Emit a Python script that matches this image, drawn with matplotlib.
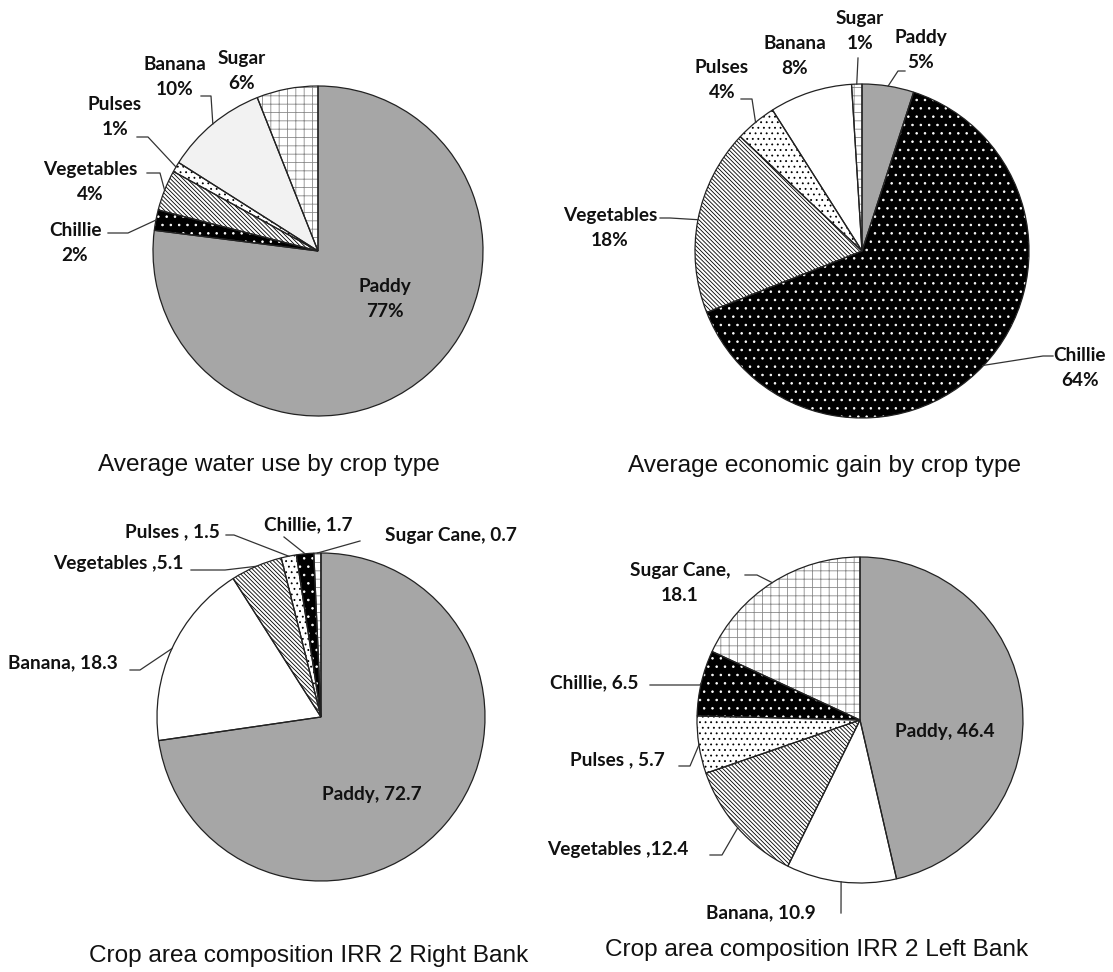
import numpy as np
import matplotlib.pyplot as plt
from matplotlib.patches import Wedge

W, H = 1113, 972

# data, clockwise from 12 o'clock
water_crops = ['Paddy', 'Chillie', 'Vegetables', 'Pulses', 'Banana', 'Sugar']
water_pct = [77, 2, 4, 1, 10, 6]

gain_crops = ['Paddy', 'Chillie', 'Vegetables', 'Pulses', 'Banana', 'Sugar']
gain_pct = [5, 64, 18, 4, 8, 1]

right_crops = ['Paddy', 'Banana', 'Vegetables', 'Pulses', 'Chillie', 'Sugar Cane']
right_area = [72.7, 18.3, 5.1, 1.5, 1.7, 0.7]

left_crops = ['Paddy', 'Banana', 'Vegetables', 'Pulses', 'Chillie', 'Sugar Cane']
left_area = [46.4, 10.9, 12.4, 5.7, 6.5, 18.1]

titles = ['Average water use by crop type', 'Average economic gain by crop type',
          'Crop area composition IRR 2 Right Bank', 'Crop area composition IRR 2 Left Bank']

# face, hatch, hatch colour
styles = {
    'Paddy': ('#a6a6a6', None, None),
    'Chillie': ('black', '..', 'white'),
    'Vegetables': ('white', '\\\\\\\\\\\\\\\\', 'black'),
    'Pulses': ('white', '...', 'black'),
    'Banana': ('white', None, None),
    'Sugar': ('white', '++', '#8a8a8a'),
    'Sugar Cane': ('white', '++', '#8a8a8a'),
}

plt.rcParams['hatch.linewidth'] = 0.6
LBL = dict(family=['Lato', 'DejaVu Sans'], weight='bold', fontsize=13.7, color='#111111')

fig = plt.figure(figsize=(W / 100, H / 100), dpi=100)
ax = fig.add_axes([0, 0, 1, 1])


def draw_pie(values, names, cx, cy, r, labels, banana='white'):
    wedges, _ = ax.pie(values, center=(cx, H - cy), radius=r, startangle=90,
                       counterclock=False,
                       wedgeprops=dict(linewidth=0, edgecolor='none'))
    for w, n in zip(wedges, names):
        face, hatch, hc = styles[n]
        if n == 'Banana':
            face = banana
        w.set_facecolor(face)
        if hatch:
            ax.add_patch(Wedge(w.center, w.r, w.theta1, w.theta2, facecolor='none',
                               edgecolor=hc, linewidth=0, hatch=hatch, zorder=2))
        ax.add_patch(Wedge(w.center, w.r, w.theta1, w.theta2, facecolor='none',
                           edgecolor='#222222', linewidth=0.9, zorder=3))
    # labels: (wedge index, text, x, y, ha, leader points)
    for i, txt, tx, ty, ha, lead in labels:
        ax.text(tx, H - ty, txt, ha=ha, va='center', multialignment='center',
                linespacing=1.6, zorder=5, **LBL)
        if lead:
            w = wedges[i]
            th = np.deg2rad((w.theta1 + w.theta2) / 2)
            ex = cx + r * np.cos(th)
            ey = (H - cy) + r * np.sin(th)
            xs = [p[0] for p in lead] + [ex]
            ys = [H - p[1] for p in lead] + [ey]
            ax.plot(xs, ys, color='#333333', lw=0.9, zorder=4)


def pct(names, vals, i):
    return '%s\n%d%%' % (names[i], vals[i])


draw_pie(water_pct, water_crops, 318, 251, 165, [
    (0, pct(water_crops, water_pct, 0), 385, 299, 'center', None),
    (1, pct(water_crops, water_pct, 1), 75, 243, 'center', [(108, 233), (128, 233)]),
    (2, pct(water_crops, water_pct, 2), 90, 182, 'center', [(147, 173), (160, 173)]),
    (3, pct(water_crops, water_pct, 3), 115, 117, 'center', [(137, 137), (148, 137)]),
    (4, pct(water_crops, water_pct, 4), 175, 77, 'center', [(201, 96), (211, 96)]),
    (5, pct(water_crops, water_pct, 5), 242, 71, 'center', None),
], banana='#f2f2f2')

draw_pie(gain_pct, gain_crops, 862, 251, 167, [
    (0, pct(gain_crops, gain_pct, 0), 921, 50, 'center', [(905, 71), (898, 71)]),
    (1, pct(gain_crops, gain_pct, 1), 1080, 368, 'center', [(1053, 356), (1043, 356)]),
    (2, pct(gain_crops, gain_pct, 2), 610, 228, 'center', [(660, 218), (670, 218)]),
    (3, pct(gain_crops, gain_pct, 3), 722, 80, 'center', [(741, 99), (752, 99)]),
    (4, pct(gain_crops, gain_pct, 4), 795, 56, 'center', None),
    (5, pct(gain_crops, gain_pct, 5), 860, 31, 'center', [(858, 58)]),
])

draw_pie(right_area, right_crops, 321, 717, 164, [
    (0, 'Paddy, %.1f' % right_area[0], 372, 794, 'center', None),
    (1, 'Banana, %.1f' % right_area[1], 8, 663, 'left', [(130, 670), (140, 670)]),
    (2, 'Vegetables ,%.1f' % right_area[2], 53, 563, 'left', [(191, 570), (225, 570)]),
    (3, 'Pulses , %.1f' % right_area[3], 125, 532, 'left', [(226, 535), (234, 535)]),
    (4, 'Chillie, %.1f' % right_area[4], 264, 525, 'left', [(284, 537)]),
    (5, 'Sugar Cane, %.1f' % right_area[5], 385, 535, 'left', [(360, 541)]),
])

draw_pie(left_area, left_crops, 860, 720, 163, [
    (0, 'Paddy, %.1f' % left_area[0], 945, 731, 'center', None),
    (1, 'Banana, %.1f' % left_area[1], 706, 913, 'left', [(841, 913)]),
    (2, 'Vegetables ,%.1f' % left_area[2], 547, 849, 'left', [(710, 855), (722, 855)]),
    (3, 'Pulses , %.1f' % left_area[3], 570, 760, 'left', [(679, 766), (690, 766)]),
    (4, 'Chillie, %.1f' % left_area[4], 550, 683, 'left', [(650, 685), (700, 685)]),
    (5, 'Sugar Cane,\n%.1f' % left_area[5], 680, 583, 'center', [(745, 575), (757, 575)]),
])

TF = dict(family=['Liberation Sans', 'DejaVu Sans'], fontsize=17.6, color='#111111',
          ha='center', va='center')
ax.text(269, H - 465, titles[0], **TF)
ax.text(825, H - 466, titles[1], **TF)
ax.text(309, H - 956, titles[2], **TF)
ax.text(817, H - 950, titles[3], **TF)

ax.set_xlim(0, W)
ax.set_ylim(0, H)
ax.set_aspect('auto')
ax.axis('off')

fig.savefig('out.png', dpi=100, facecolor='white')
